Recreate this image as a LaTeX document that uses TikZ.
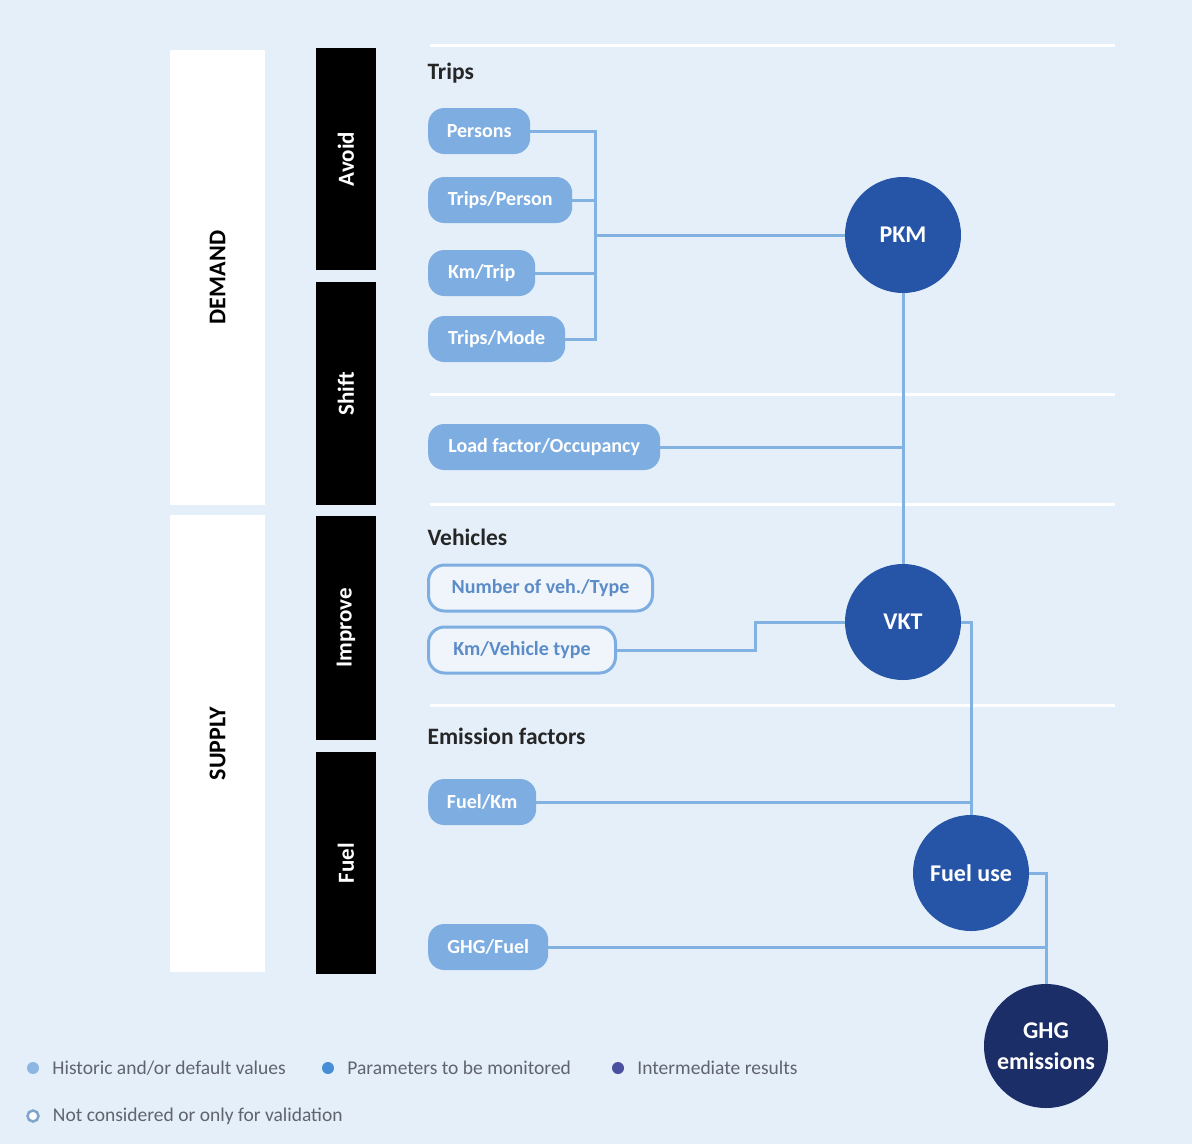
\documentclass[tikz,border=0pt]{standalone}
\usepackage{fontspec}
\setmainfont{Carlito}
\usetikzlibrary{positioning}
\definecolor{bgblue}{RGB}{228,239,249}
\definecolor{pillblue}{RGB}{126,174,225}
\definecolor{linkblue}{RGB}{130,178,226}
\definecolor{resblue}{RGB}{38,84,166}
\definecolor{ghgnavy}{RGB}{28,46,104}
\definecolor{outlinetext}{RGB}{92,140,200}
\definecolor{legendgray}{RGB}{95,100,110}
\definecolor{histdot}{RGB}{142,182,226}
\definecolor{monidot}{RGB}{72,142,214}
\definecolor{interdot}{RGB}{74,80,160}
\begin{document}
\begin{tikzpicture}[x=1pt,y=-1pt]
    % Define the styles
    \tikzset{pill/.style={rectangle, rounded corners=16pt, fill=pillblue, text=white, font=\bfseries\fontsize{20}{23}\selectfont, minimum height=46pt, anchor=west}}
    \tikzset{hollow/.style={pill, fill=bgblue!60!white, draw=pillblue, line width=3pt, text=outlinetext}}
    \tikzset{result/.style={circle, fill=resblue, text=white, font=\bfseries\fontsize{24}{27}\selectfont, minimum size=116pt, inner sep=0pt, align=center}}
    \tikzset{bar/.style={rectangle, fill=black, text=white, font=\bfseries\fontsize{23}{25}\selectfont, minimum height=60pt, rotate=90}}
    \tikzset{column/.style={rectangle, fill=white, text=black, font=\bfseries\fontsize{24}{26}\selectfont, minimum height=95pt, rotate=90}}
    \tikzset{heading/.style={anchor=west, text=black!85, font=\bfseries\fontsize{23.5}{26}\selectfont}}
    \tikzset{link/.style={draw=linkblue, line width=3pt}}
    \tikzset{dot/.style={circle, minimum size=12pt, inner sep=0pt}}
    \tikzset{legend/.style={text=legendgray, font=\fontsize{19.5}{22}\selectfont, inner sep=0pt}}

    % Background and separators
    \fill[bgblue] (0,0) rectangle (1192,1144);
    \foreach \yy in {45,394,504,705}
        \draw[white, line width=3pt] (430,\yy) -- (1115,\yy);

    % Demand and supply columns
    \node[column, minimum width=455pt] (demand) at (217.5,277.5) {DEMAND};
    \node[column, minimum width=457pt] (supply) at (217.5,743.5) {SUPPLY};

    \node[bar, minimum width=222pt] (avoid) at (346,159) {Avoid};
    \node[bar, minimum width=223pt] (shift) at (346,393.5) {Shift};
    \node[bar, minimum width=224pt] (improve) at (346,628) {Improve};
    \node[bar, minimum width=222pt] (fuel) at (346,863) {Fuel};

    % Headings
    \node[heading] (trips) at (424,73) {Trips};
    \node[heading] (vehicles) at (424,537) {Vehicles};
    \node[heading] (emission) at (424,736) {Emission factors};

    % Input parameters
    \node[pill, minimum width=102pt] (persons) at (428,131) {Persons};
    \node[pill, minimum width=144pt] (tripsperson) at (428,200) {Trips/Person};
    \node[pill, minimum width=107pt] (kmtrip) at (428,273) {Km/Trip};
    \node[pill, minimum width=137pt] (tripsmode) at (428,339) {Trips/Mode};
    \node[pill, minimum width=232pt] (loadfactor) at (428,447) {Load factor/Occupancy};
    \node[hollow, minimum width=224pt] (numveh) at (427,588) {Number of veh./Type};
    \node[hollow, minimum width=187pt] (kmveh) at (427,650) {Km/Vehicle type};
    \node[pill, minimum width=108pt] (fuelkm) at (428,802) {Fuel/Km};
    \node[pill, minimum width=120pt] (ghgfuel) at (428,947) {GHG/Fuel};

    % Intermediate results
    \node[result] (pkm) at (903,235) {PKM};
    \node[result] (vkt) at (903,622) {VKT};
    \node[result] (fueluse) at (971,873) {Fuel use};
    \node[result, fill=ghgnavy, minimum size=124pt, font=\bfseries\fontsize{24}{31}\selectfont] (ghg) at (1046,1046) {GHG\\emissions};

    % Connectors
    \coordinate (tripjoin) at (595,235);
    \coordinate (vehbend) at (755,622);
    \draw[link] (persons) -| (tripjoin);
    \draw[link] (tripsmode) -| (tripjoin);
    \draw[link] (tripsperson) -- (tripsperson -| tripjoin);
    \draw[link] (kmtrip) -- (kmtrip -| tripjoin);
    \draw[link] (tripjoin) -- (pkm);
    \draw[link] (pkm) -- (vkt);
    \draw[link] (loadfactor) -- (loadfactor -| pkm);
    \draw[link] (kmveh) -| (vehbend) -- (vkt);
    \draw[link] (vkt.east) -| (fueluse.north);
    \draw[link] (fuelkm) -- (fuelkm -| fueluse.north);
    \draw[link] (fueluse.east) -| (ghg.north);
    \draw[link] (ghgfuel) -- (ghgfuel -| ghg.north);

    % Legend
    \node[dot, fill=histdot] (hist) at (33,1068) {};
    \node[legend, right=13pt of hist] (histtext) {Historic and/or default values};
    \node[dot, fill=monidot] (moni) at (328,1068) {};
    \node[legend, right=13pt of moni] (monitext) {Parameters to be monitored};
    \node[dot, fill=interdot] (inter) at (618,1068) {};
    \node[legend, right=13pt of inter] (intertext) {Intermediate results};
    \node[dot, fill=white, draw=histdot!90!black, line width=2.5pt, minimum size=11pt] (notcons) at (33,1116) {};
    \node[legend, right=13pt of notcons] (notconstext) {Not considered or only for validation};
\end{tikzpicture}
\end{document}
